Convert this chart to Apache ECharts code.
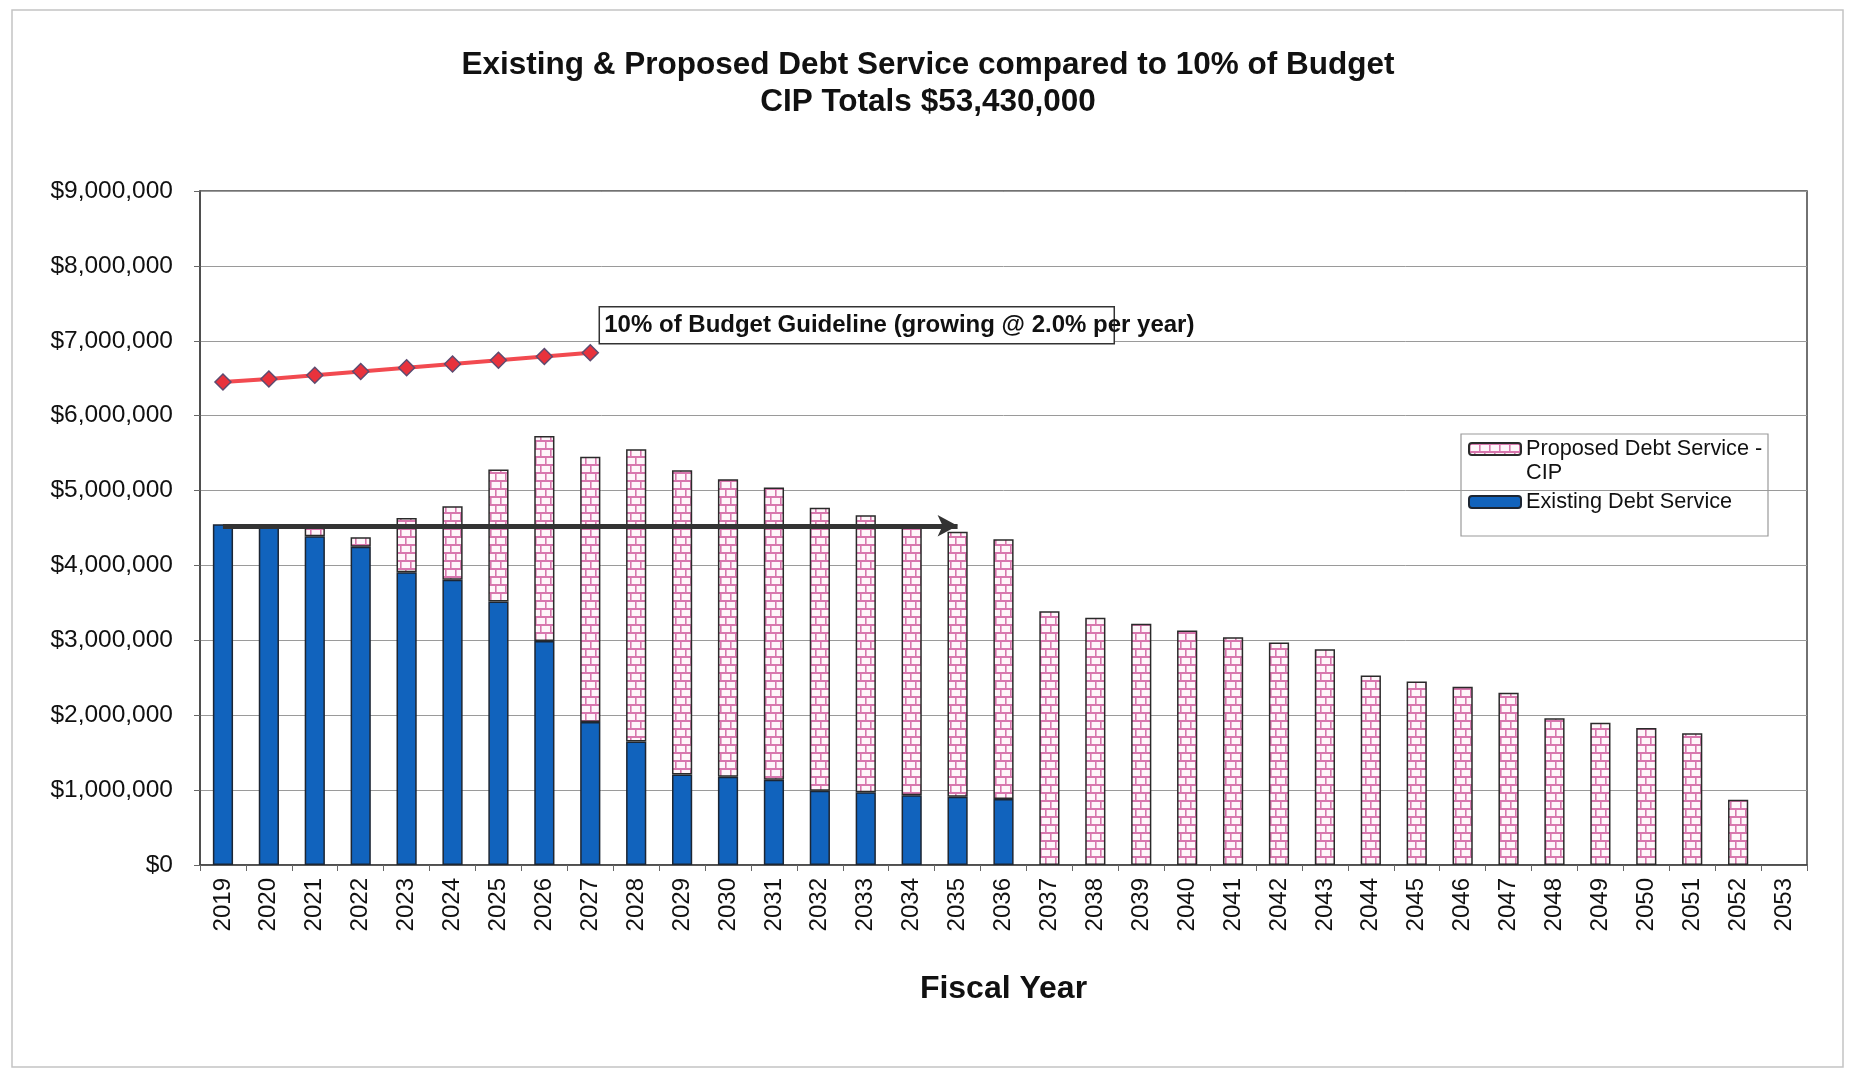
<!DOCTYPE html>
<html>
<head>
<meta charset="utf-8">
<title>Existing &amp; Proposed Debt Service compared to 10% of Budget</title>
<script src="https://cdn.jsdelivr.net/npm/echarts@6/dist/echarts.min.js"></script>
<style>
  html, body { margin: 0; padding: 0; background: #ffffff; }
  #chart { width: 1868px; height: 1071px; }
</style>
</head>
<body>
<div id="chart"></div>
<script>
// Fiscal years on the category axis
const years = ['2019','2020','2021','2022','2023','2024','2025','2026','2027','2028',
  '2029','2030','2031','2032','2033','2034','2035','2036','2037','2038',
  '2039','2040','2041','2042','2043','2044','2045','2046','2047','2048',
  '2049','2050','2051','2052','2053'];

// Existing debt service by year (dollars)
const existingDebt = [4550000, 4550000, 4390000, 4250000, 3910000, 3810000, 3520000, 2990000, 1910000, 1650000,
  1210000, 1180000, 1140000, 990000, 970000, 930000, 910000, 880000, null, null,
  null, null, null, null, null, null, null, null, null, null,
  null, null, null, null, null];

// Proposed debt service from the CIP by year (dollars), stacked on existing
const proposedDebt = [null, null, 130000, 125000, 725000, 980000, 1760000, 2740000, 3540000, 3900000,
  4060000, 3970000, 3900000, 3780000, 3700000, 3590000, 3540000, 3470000, 3390000, 3300000,
  3220000, 3130000, 3040000, 2970000, 2880000, 2530000, 2450000, 2380000, 2300000, 1960000,
  1900000, 1830000, 1760000, 870000, null];

// 10% of budget guideline, 2019-2027 (dollars)
const guideline = [6450000, 6490000, 6540000, 6590000, 6640000, 6690000, 6740000, 6790000, 6840000];

// Current debt level carried forward as a reference arrow
const arrowLevel = 4530000;
const arrowFrom = '2019';
const arrowTo = '2035';

// Value-axis ticks
const yMin = 0, yMax = 9000000, yStep = 1000000;

const FONT = '"Liberation Sans", Arial, sans-serif';

// Brick hatch used for the proposed debt bars
function brickPattern() {
  const c = document.createElement('canvas');
  c.width = 10; c.height = 16;
  const g = c.getContext('2d');
  g.fillStyle = '#fef6fa';
  g.fillRect(0, 0, 10, 16);
  g.fillStyle = '#d877ae';
  g.fillRect(0, 0, 10, 2);
  g.fillRect(0, 8, 10, 2);
  g.fillRect(0, 0, 1.6, 8);
  g.fillRect(5, 8, 1.6, 8);
  return c;
}
const brick = { image: brickPattern(), repeat: 'repeat' };

const chart = echarts.init(document.getElementById('chart'), null, { renderer: 'canvas' });

const option = {
  backgroundColor: '#ffffff',
  animation: false,
  textStyle: { fontFamily: FONT },
  title: {
    text: 'Existing & Proposed Debt Service compared to 10% of Budget\nCIP Totals $53,430,000',
    left: 928,
    top: 47,
    textAlign: 'center',
    padding: 0,
    textStyle: { fontFamily: FONT, fontSize: 31.5, fontWeight: 'bold', color: '#111', lineHeight: 37 }
  },
  legend: [
    {
      data: ['Proposed Debt Service - CIP'],
      left: 1468,
      top: 413,
      padding: 0,
      itemWidth: 52,
      itemHeight: 12,
      selectedMode: false,
      formatter: () => '\nProposed Debt Service -\nCIP',
      textStyle: { fontFamily: FONT, fontSize: 21.7, color: '#111', lineHeight: 24 }
    },
    {
      data: ['Existing Debt Service'],
      left: 1468,
      top: 491,
      padding: 0,
      itemWidth: 52,
      itemHeight: 12,
      selectedMode: false,
      textStyle: { fontFamily: FONT, fontSize: 21.7, color: '#111' }
    }
  ],
  grid: {
    left: 200, right: 61, top: 191, bottom: 206,
    show: true, borderColor: '#444', borderWidth: 1.5, backgroundColor: '#ffffff'
  },
  xAxis: {
    type: 'category',
    data: years,
    boundaryGap: true,
    name: 'Fiscal Year',
    nameLocation: 'middle',
    nameGap: 108,
    nameTextStyle: { fontFamily: FONT, fontSize: 32, fontWeight: 'bold', color: '#111' },
    axisLine: { lineStyle: { color: '#444', width: 1.5 } },
    axisTick: { show: true, length: 6, lineStyle: { color: '#666' } },
    axisLabel: { rotate: 90, fontFamily: FONT, fontSize: 24, color: '#111', margin: 13, interval: 0 },
    splitLine: { show: false }
  },
  yAxis: {
    type: 'value',
    min: yMin, max: yMax, interval: yStep,
    axisLine: { show: true, lineStyle: { color: '#444', width: 1.5 } },
    axisTick: { show: true, length: 6, lineStyle: { color: '#666' } },
    axisLabel: {
      fontFamily: FONT, fontSize: 24.5, color: '#111', margin: 27,
      formatter: v => '$' + v.toLocaleString('en-US')
    },
    splitLine: { show: true, lineStyle: { color: '#9a9a9a', width: 1 } }
  },
  series: [
    {
      name: 'Existing Debt Service',
      type: 'bar',
      stack: 'debt',
      data: existingDebt,
      barCategoryGap: '56%',
      itemStyle: { color: '#1163bd', borderColor: '#1d2633', borderWidth: 1.5 }
    },
    {
      name: 'Proposed Debt Service - CIP',
      type: 'bar',
      stack: 'debt',
      data: proposedDebt,
      barCategoryGap: '56%',
      itemStyle: { color: brick, borderColor: '#2a2a2a', borderWidth: 1.5 }
    },
    {
      name: '10% of Budget Guideline',
      type: 'line',
      data: guideline,
      z: 5,
      symbol: 'diamond',
      symbolSize: 16,
      lineStyle: { color: '#f24a50', width: 4 },
      itemStyle: { color: '#e8323c', borderColor: '#5d4b70', borderWidth: 1.5 },
      markLine: {
        silent: true,
        symbol: ['none', 'arrow'],
        symbolSize: [16, 20],
        label: { show: false },
        lineStyle: { color: '#333333', width: 5, type: 'solid' },
        data: [[
          { coord: [arrowFrom, arrowLevel] },
          { coord: [arrowTo, arrowLevel] }
        ]]
      }
    }
  ]
};

chart.setOption(option);

// Callout for the guideline, anchored to its last point; legend frame; outer chart frame
const lastIdx = guideline.length - 1;
const anchor = chart.convertToPixel({ seriesIndex: 2 }, [years[lastIdx], guideline[lastIdx]]);
const boxW = 515, boxH = 37;
const boxX = anchor[0] + 9, boxY = anchor[1] - 9 - boxH;

chart.setOption({
  graphic: [
    {
      type: 'rect', z: 0, silent: true,
      shape: { x: 12, y: 10, width: 1831, height: 1057 },
      style: { fill: 'none', stroke: '#c4c4c4', lineWidth: 1.5 }
    },
    {
      type: 'rect', z: 10, silent: true,
      shape: { x: 1461, y: 434, width: 307, height: 102 },
      style: { fill: 'none', stroke: '#9a9a9a', lineWidth: 1.2 }
    },
    {
      type: 'rect', z: 10, silent: true,
      shape: { x: boxX, y: boxY, width: boxW, height: boxH },
      style: { fill: '#ffffff', stroke: '#333333', lineWidth: 1.5 }
    },
    {
      type: 'text', z: 11, silent: true,
      x: boxX + 5, y: boxY + boxH / 2,
      style: {
        text: '10% of Budget Guideline (growing @ 2.0% per year)',
        font: 'bold 24px ' + FONT,
        fill: '#111',
        verticalAlign: 'middle',
        align: 'left'
      }
    }
  ]
});
</script>
</body>
</html>
